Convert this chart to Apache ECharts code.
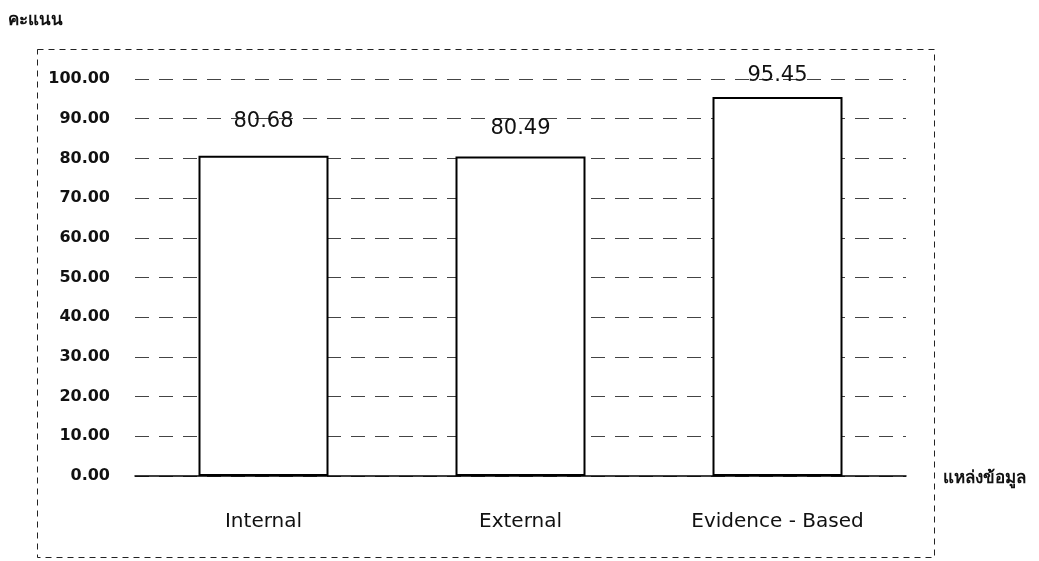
<!DOCTYPE html>
<html><head><meta charset="utf-8">
<script src="https://cdn.jsdelivr.net/npm/echarts@6/dist/echarts.min.js"></script>
<style>html,body{margin:0;padding:0;background:#fff}#c{width:1039px;height:561px}</style>
</head><body><div id="c"></div>
<script>
const categories = ['Internal', 'External', 'Evidence - Based'];
const scores = [80.68, 80.49, 95.45];
const yAxisName = 'คะแนน';
const xAxisName = 'แหล่งข้อมูล';
// label style (distance above bar, px)
const labelGaps = [24, 17, 11];

const chart = echarts.init(document.getElementById('c'));
chart.setOption({
  backgroundColor: '#fff',
  animation: false,
  graphic: [{
    type: 'rect', left: 35, top: 47, shape: { width: 897, height: 508 },
    style: { fill: 'none', stroke: '#222', lineWidth: 1, lineDash: [6, 5] }, silent: true
  }, {
    type: 'text', left: 8, top: 12,
    style: { text: yAxisName, font: 'bold 17px "Noto Sans", "DejaVu Sans", sans-serif', fill: '#111' }
  }, {
    type: 'text', left: 943, top: 470,
    style: { text: xAxisName, font: 'bold 17px "Noto Sans", "DejaVu Sans", sans-serif', fill: '#111' }
  }],
  grid: { left: 135, right: 133, top: 79, bottom: 85 },
  xAxis: {
    type: 'category', data: categories,
    axisLine: { lineStyle: { color: '#000', width: 1.5 } },
    axisTick: { show: false },
    axisLabel: { margin: 36, fontSize: 20, color: '#111', fontFamily: '"DejaVu Sans", sans-serif' }
  },
  yAxis: {
    type: 'value', min: 0, max: 100, interval: 10,
    axisLine: { show: false }, axisTick: { show: false },
    axisLabel: { margin: 25, fontSize: 16, fontWeight: 'bold', color: '#111',
      fontFamily: '"DejaVu Sans", sans-serif', formatter: v => v.toFixed(2) },
    splitLine: { lineStyle: { color: '#444', type: [14, 10], width: 1 } }
  },
  series: [{
    type: 'bar',
    data: scores.map((v, i) => ({ value: v, label: { distance: labelGaps[i] } })),
    barWidth: 130,
    itemStyle: { color: '#fff', borderColor: '#000', borderWidth: 2 },
    label: { show: true, position: 'top', fontSize: 21, color: '#111',
      fontFamily: '"DejaVu Sans", sans-serif', formatter: p => p.value.toFixed(2) }
  }]
});
</script></body></html>
